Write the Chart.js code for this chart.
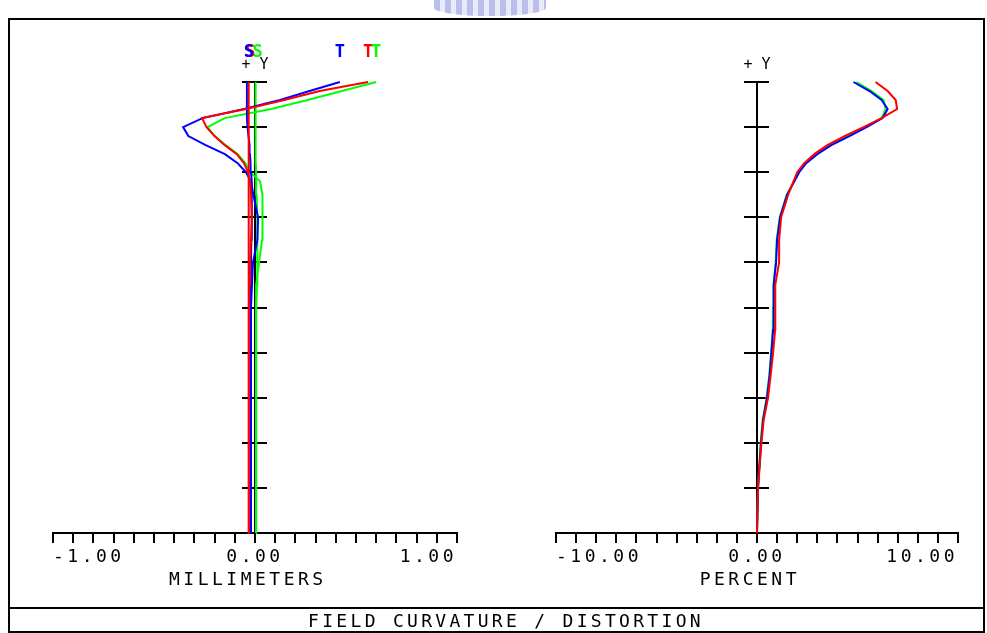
<!DOCTYPE html>
<html>
<head>
<meta charset="utf-8">
<script src="https://cdn.jsdelivr.net/npm/chart.js@4.4.1/dist/chart.umd.min.js"></script>
<style>
  html, body { margin: 0; padding: 0; background: #fff; }
  #wrap { position: relative; width: 987px; height: 633px; overflow: hidden; background: #fff; }
  canvas { position: absolute; left: 0; top: 0; }
  #frame { position: absolute; left: 8px; top: 18px; width: 977px; height: 615px; border: 2px solid #000; box-sizing: border-box; }
  #sep { position: absolute; left: 8px; top: 607px; width: 977px; height: 2px; background: #000; }
  #title { position: absolute; left: 0; top: 610px; width: 1012px; height: 22px; line-height: 22px; text-align: center;
           font-family: "DejaVu Sans Mono", monospace; font-size: 18px; letter-spacing: 3.3px; color: #000; }
  #logo { position: absolute; left: 434px; top: 0; width: 112px; height: 16px; border-radius: 0 0 50% 50%;
          background: repeating-linear-gradient(90deg, #a9aee6 0 6px, #e3e5f7 6px 11px); opacity: 0.8; }
</style>
</head>
<body>
<div id="wrap">
  <div id="logo"></div>
  <div id="frame"></div>
  <div id="sep"></div>
  <canvas id="curv" width="987" height="633"></canvas>
  <canvas id="dist" width="987" height="633"></canvas>
  <div id="title">FIELD CURVATURE / DISTORTION</div>
</div>
<script>
// relative field height (+Y), 0 = axis, 1 = full field
const field = [0, 0.1, 0.2, 0.3, 0.4, 0.5, 0.55, 0.6, 0.65, 0.7, 0.75, 0.78, 0.8, 0.82, 0.84, 0.86, 0.88, 0.9, 0.92, 0.94, 0.96, 0.98, 1.0]

// field curvature, millimeters
const tanBlue  = [-0.02, -0.02, -0.02, -0.02, -0.02, -0.02, -0.015, -0.01, 0.012, 0.015, -0.008, -0.02, -0.045, -0.086, -0.149, -0.244, -0.33, -0.356, -0.26, -0.054, 0.124, 0.27, 0.42]
const sagBlue  = [-0.02, -0.02, -0.02, -0.02, -0.02, -0.02, -0.02, -0.02, -0.018, -0.015, -0.015, -0.018, -0.02, -0.022, -0.025, -0.027, -0.032, -0.037, -0.04, -0.04, -0.04, -0.04, -0.04]
const tanRed   = [-0.03, -0.03, -0.03, -0.03, -0.03, -0.03, -0.028, -0.025, -0.02, -0.015, -0.02, -0.025, -0.035, -0.055, -0.09, -0.15, -0.2, -0.24, -0.262, -0.045, 0.145, 0.32, 0.56]
const sagRed   = [-0.03, -0.03, -0.03, -0.03, -0.03, -0.03, -0.03, -0.03, -0.03, -0.03, -0.03, -0.03, -0.031, -0.031, -0.032, -0.032, -0.033, -0.033, -0.033, -0.033, -0.033, -0.033, -0.033]
const tanGreen = [0.005, 0.005, 0.005, 0.005, 0.005, 0.005, 0.008, 0.02, 0.035, 0.037, 0.037, 0.025, -0.025, -0.047, -0.085, -0.145, -0.2, -0.235, -0.15, 0.08, 0.26, 0.43, 0.6]
const sagGreen = [0.005, 0.005, 0.005, 0.005, 0.005, 0.008, 0.01, 0.012, 0.012, 0.01, 0.008, 0.006, 0.005, 0.004, 0.004, 0.003, 0.003, 0.003, 0.003, 0.003, 0.003, 0.003, 0.003]

// distortion, percent
const fieldDist = [0, 0.1, 0.2, 0.25, 0.3, 0.35, 0.4, 0.45, 0.5, 0.55, 0.6, 0.65, 0.7, 0.75, 0.8, 0.82, 0.84, 0.86, 0.88, 0.9, 0.92, 0.94, 0.96, 0.98, 1.0]
const distBlue  = [0, 0.05, 0.2, 0.3, 0.5, 0.63, 0.72, 0.8, 0.82, 0.84, 0.95, 1.0, 1.15, 1.5, 2.1, 2.45, 3.0, 3.7, 4.6, 5.45, 6.25, 6.5, 6.2, 5.6, 4.8]
const distGreen = [0, 0.05, 0.18, 0.28, 0.48, 0.61, 0.7, 0.78, 0.8, 0.82, 0.93, 0.98, 1.13, 1.48, 2.08, 2.42, 2.95, 3.6, 4.5, 5.4, 6.2, 6.4, 6.3, 5.7, 4.95]
const distRed   = [0, 0.05, 0.22, 0.33, 0.55, 0.68, 0.8, 0.9, 0.9, 0.92, 1.1, 1.1, 1.2, 1.55, 2.0, 2.35, 2.85, 3.5, 4.35, 5.3, 6.2, 6.97, 6.9, 6.5, 5.9]

const mmTicks = [-1, 0, 1]
const pctTicks = [-10, 0, 10]

const mono = "DejaVu Sans Mono"
const BLUE = "#0000ff", RED = "#ff0000", GREEN = "#00ff00"

function pts(xs, ys) {
  return xs.map((v, i) => ({ x: v, y: ys[i] }))
}

function line(values, ys, color, tag) {
  return {
    data: pts(values, ys),
    borderColor: color,
    borderWidth: 2,
    pointRadius: 0,
    tension: 0,
    clip: false,
    tag: tag
  }
}

// wide pixel-font look for the axis text
const spacing = {
  id: "spacing",
  beforeLayout(chart) { chart.ctx.letterSpacing = "3.5px" },
  beforeDraw(chart) { chart.ctx.letterSpacing = "3.5px" }
}

// +Y at the top of the axis and S / T tags at the top of each curve
const tags = {
  id: "tags",
  afterDatasetsDraw(chart) {
    const ctx = chart.ctx
    const xs = chart.scales.x
    const ys = chart.scales.y
    ctx.save()
    ctx.letterSpacing = "0px"
    ctx.textAlign = "center"
    ctx.textBaseline = "middle"
    chart.data.datasets.forEach((ds, i) => {
      if (!ds.tag) return
      const el = chart.getDatasetMeta(i).data
      const p = el[el.length - 1]
      ctx.fillStyle = ds.borderColor
      ctx.font = "bold 17px '" + mono + "'"
      ctx.fillText(ds.tag, p.x + (ds.tag === "S" ? 2 : 0), ys.top - 29)
    })
    ctx.fillStyle = "#000"
    ctx.font = "15px '" + mono + "'"
    ctx.fillText("+ Y", xs.getPixelForValue(0), ys.top - 17)
    ctx.restore()
  }
}

function axes(min, max, step, labels, title) {
  const yAxis = (len, border) => ({
    type: "linear",
    min: 0,
    max: 1,
    position: { x: 0 },
    ticks: { display: false, stepSize: 0.1 },
    grid: { drawOnChartArea: false, tickLength: len, color: "#000", tickColor: "#000", lineWidth: 2 },
    border: { display: border, color: "#000", width: 2 }
  })
  return {
    x: {
      type: "linear",
      min: min,
      max: max,
      afterFit: s => { s.height = 75 },
      border: { display: true, color: "#000", width: 2 },
      grid: { drawOnChartArea: false, tickLength: 10, color: "#000", tickColor: "#000", lineWidth: 2 },
      ticks: {
        stepSize: step,
        autoSkip: false,
        maxRotation: 0,
        align: "inner",
        padding: 4,
        color: "#000",
        font: { family: mono, size: 18 },
        callback: v => {
          const hit = labels.find(l => Math.abs(l - v) < step / 100)
          if (hit === undefined) return ""
          return hit === 0 ? "0.00" : hit.toFixed(2)
        }
      },
      title: { display: true, text: title, color: "#000", font: { family: mono, size: 18 }, padding: { top: 0, bottom: 17 } }
    },
    y: yAxis(12, true),
    y2: yAxis(-12, false)
  }
}

function makeChart(id, datasets, scales, padding, plugins) {
  return new Chart(document.getElementById(id), {
    type: "line",
    data: { datasets: datasets },
    options: {
      responsive: false,
      animation: false,
      events: [],
      devicePixelRatio: 1,
      layout: { padding: padding },
      plugins: { legend: { display: false }, tooltip: { enabled: false } },
      scales: scales
    },
    plugins: plugins
  })
}

makeChart("curv", [
  line(tanRed, field, RED, "T"),
  line(sagRed, field, RED, "S"),
  line(tanBlue, field, BLUE, "T"),
  line(sagBlue, field, BLUE, "S"),
  line(tanGreen, field, GREEN, "T"),
  line(sagGreen, field, GREEN, "S")
], axes(-1, 1, 0.1, mmTicks, "MILLIMETERS "), { left: 53, right: 530, top: 82, bottom: 25 }, [spacing, tags])

makeChart("dist", [
  line(distRed, fieldDist, RED),
  line(distBlue, fieldDist, BLUE),
  line(distGreen, fieldDist, GREEN)
], axes(-10, 10, 1, pctTicks, "PERCENT "), { left: 556, right: 29, top: 82, bottom: 25 }, [spacing, {
  id: "plusY",
  afterDatasetsDraw(chart) {
    const ctx = chart.ctx
    ctx.save()
    ctx.letterSpacing = "0px"
    ctx.textAlign = "center"
    ctx.textBaseline = "middle"
    ctx.fillStyle = "#000"
    ctx.font = "15px '" + mono + "'"
    ctx.fillText("+ Y", chart.scales.x.getPixelForValue(0), chart.scales.y.top - 17)
    ctx.restore()
  }
}])
</script>
</body>
</html>
